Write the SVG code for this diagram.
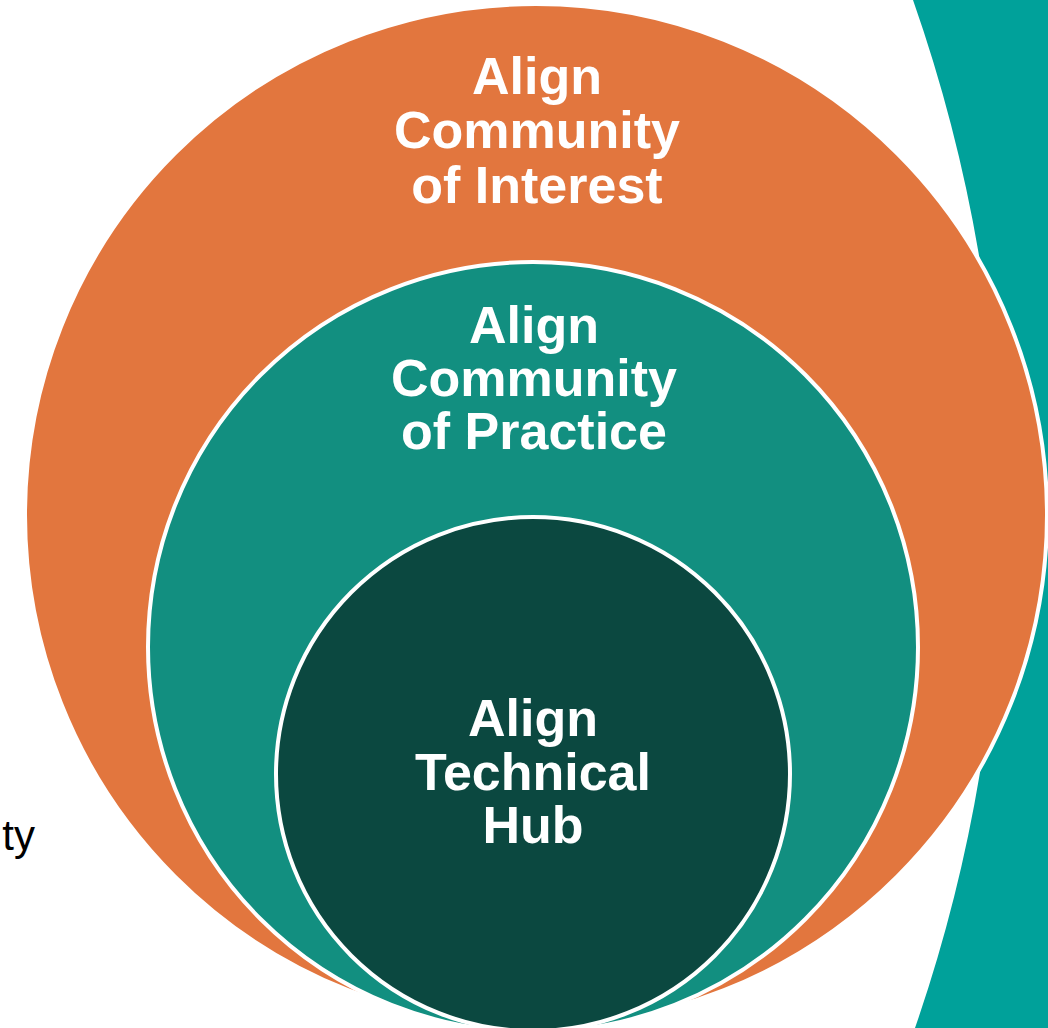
<svg xmlns="http://www.w3.org/2000/svg" width="1048" height="1028" viewBox="0 0 1048 1028">
<style>
.lbl{font-family:"Liberation Sans",Arial,sans-serif;font-weight:bold;font-size:52px;fill:#FFFFFF;text-anchor:middle}
.ring{stroke:#FFFFFF;stroke-width:4}
</style>
<rect width="1048" height="1028" fill="#FFFFFF"/>
<path id="bgband" d="M913,0 A1561,1561 0 0 1 915,1028 L1048,1028 L1048,0 Z" fill="#00A19A"/>
<text x="35" y="850" font-family="'Liberation Sans',Arial,sans-serif" font-size="42" fill="#000000" text-anchor="end">ty</text>
<g id="interest">
<circle class="ring" cx="536" cy="515" r="511" fill="#E2763E"/>
<text class="lbl" x="537" y="94">Align</text>
<text class="lbl" x="537" y="148">Community</text>
<text class="lbl" x="537" y="203">of Interest</text>
</g>
<g id="practice">
<circle class="ring" cx="533" cy="647" r="385" fill="#128F80"/>
<text class="lbl" x="534" y="343">Align</text>
<text class="lbl" x="534" y="396">Community</text>
<text class="lbl" x="534" y="449">of Practice</text>
</g>
<g id="hub">
<circle class="ring" cx="533" cy="774" r="257" fill="#0B4840"/>
<text class="lbl" x="533" y="736">Align</text>
<text class="lbl" x="533" y="790">Technical</text>
<text class="lbl" x="533" y="843">Hub</text>
</g>
<g id="connectors"/>
</svg>
